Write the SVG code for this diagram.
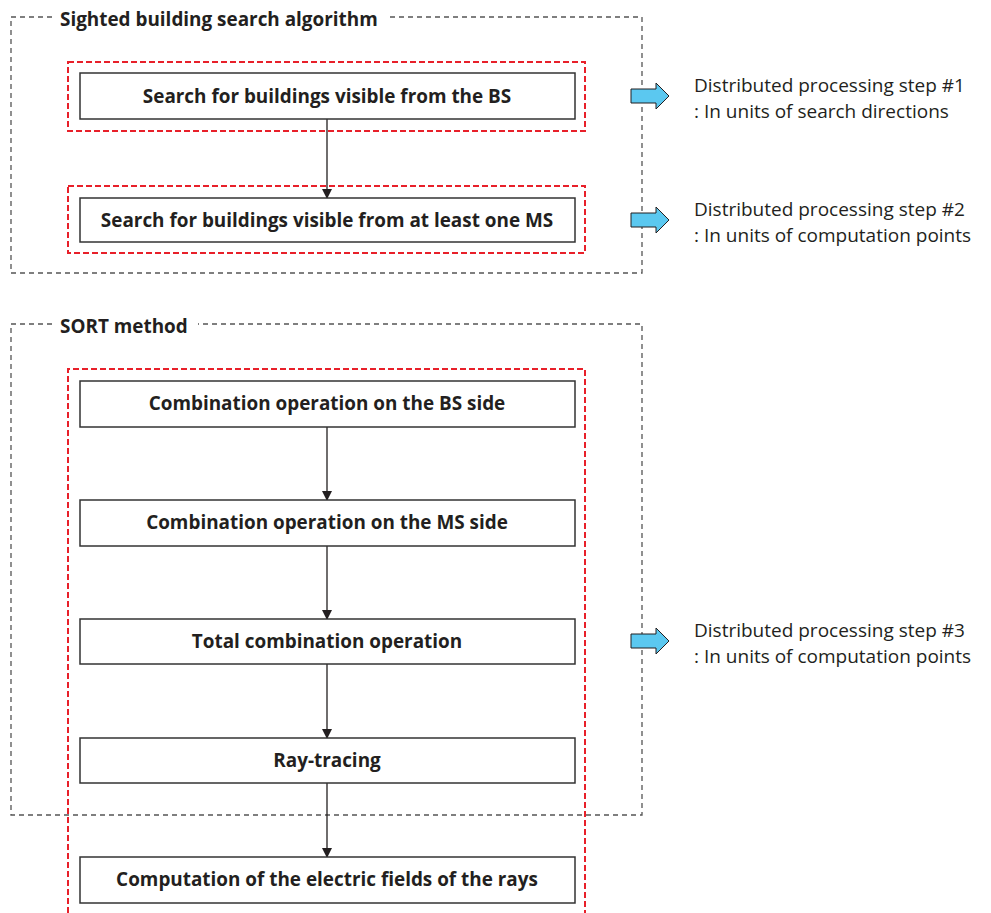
<svg xmlns="http://www.w3.org/2000/svg" width="991" height="913" viewBox="0 0 991 913">
<style>
.outer{fill:none;stroke:#555;stroke-width:1.3;stroke-dasharray:5 4}
.red{fill:none;stroke:#e8202a;stroke-width:2;stroke-dasharray:6 3}
.box{fill:#fff;stroke:#333;stroke-width:1.5}
.bt{font-family:"Open Sans","Liberation Sans",Arial,sans-serif;font-weight:bold;font-size:18.9px;fill:#231f20;text-anchor:middle}
.tt{font-family:"Open Sans","Liberation Sans",Arial,sans-serif;font-weight:bold;font-size:18.9px;fill:#231f20}
.rt{font-family:"Open Sans","Liberation Sans",Arial,sans-serif;font-size:19px;fill:#231f20}
.conn{stroke:#231f20;stroke-width:1.3;fill:none}
.blue{fill:#5bc8f0;stroke:#231f20;stroke-width:1}
</style>
<defs>
<marker id="ah" markerWidth="10" markerHeight="10" refX="9" refY="5" orient="auto" markerUnits="userSpaceOnUse">
<path d="M0,0 L10,5 L0,10 Z" fill="#231f20"/>
</marker>
</defs>
<g id="group-sighted">
<path class="outer" d="M52,17 H11 V273 H642 V17 H386"/>
<text class="tt" x="60" y="26">Sighted building search algorithm</text>
</g>
<g id="group-sort">
<path class="outer" d="M52,324 H11 V815 H642 V324 H198"/>
<text class="tt" x="60" y="333">SORT method</text>
</g>
<rect class="red" x="68" y="62" width="517" height="69"/>
<rect class="red" x="68" y="186" width="517" height="67"/>
<path class="red" d="M68,913 V369 H585 V913"/>
<g id="connectors">
<line class="conn" x1="327" y1="119" x2="327" y2="198" marker-end="url(#ah)"/>
<line class="conn" x1="327" y1="427" x2="327" y2="500" marker-end="url(#ah)"/>
<line class="conn" x1="327" y1="546" x2="327" y2="619" marker-end="url(#ah)"/>
<line class="conn" x1="327" y1="664" x2="327" y2="738" marker-end="url(#ah)"/>
<line class="conn" x1="327" y1="783" x2="327" y2="857" marker-end="url(#ah)"/>
</g>
<g id="n1"><rect class="box" x="80" y="73" width="495" height="46"/><text class="bt" x="327" y="103">Search for buildings visible from the BS</text></g>
<g id="n2"><rect class="box" x="80" y="198" width="495" height="44"/><text class="bt" x="327" y="227">Search for buildings visible from at least one MS</text></g>
<g id="n3"><rect class="box" x="80" y="381" width="495" height="46"/><text class="bt" x="327" y="410">Combination operation on the BS side</text></g>
<g id="n4"><rect class="box" x="80" y="500" width="495" height="46"/><text class="bt" x="327" y="529">Combination operation on the MS side</text></g>
<g id="n5"><rect class="box" x="80" y="619" width="495" height="45"/><text class="bt" x="327" y="648">Total combination operation</text></g>
<g id="n6"><rect class="box" x="80" y="738" width="495" height="45"/><text class="bt" x="327" y="767">Ray-tracing</text></g>
<g id="n7"><rect class="box" x="80" y="857" width="495" height="46"/><text class="bt" x="327" y="886">Computation of the electric fields of the rays</text></g>
<g id="step1">
<path class="blue" d="M631,89 H656 V83 L669,96 L656,109 V103 H631 Z"/>
<text class="rt" x="694" y="92">Distributed processing step #1</text>
<text class="rt" x="694" y="118">: In units of search directions</text>
</g>
<g id="step2">
<path class="blue" d="M631,213 H656 V207 L669,220 L656,233 V227 H631 Z"/>
<text class="rt" x="694" y="216">Distributed processing step #2</text>
<text class="rt" x="694" y="242">: In units of computation points</text>
</g>
<g id="step3">
<path class="blue" d="M631,634 H656 V628 L669,641 L656,654 V648 H631 Z"/>
<text class="rt" x="694" y="637">Distributed processing step #3</text>
<text class="rt" x="694" y="663">: In units of computation points</text>
</g>
</svg>
